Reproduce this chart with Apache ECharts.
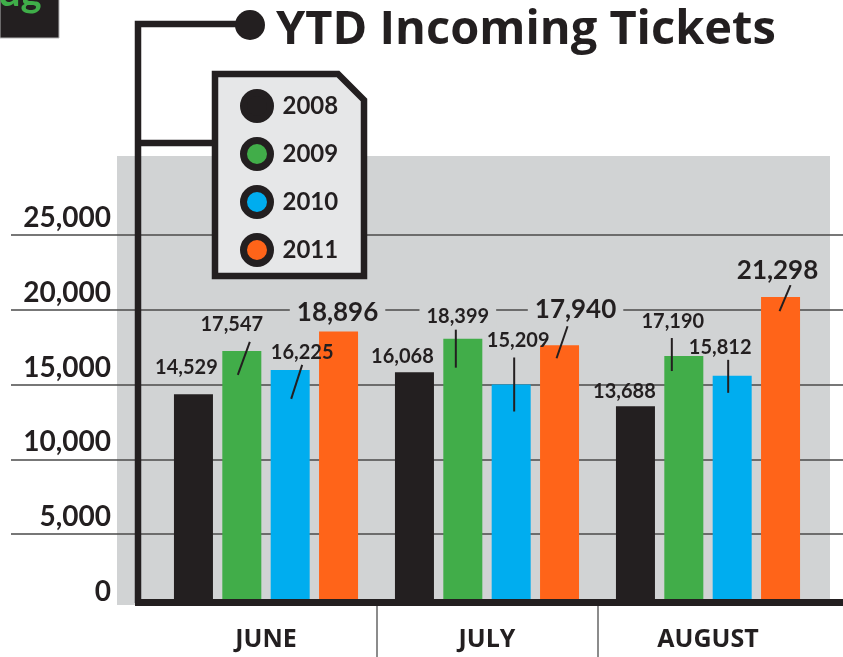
<!DOCTYPE html>
<html>
<head>
<meta charset="utf-8">
<title>YTD Incoming Tickets</title>
<script src="https://cdn.jsdelivr.net/npm/echarts@6/dist/echarts.min.js"></script>
<style>
html, body { margin: 0; padding: 0; background: #fff; }
#report { width: 843px; height: 657px; }
</style>
</head>
<body>
<div id="report"></div>
<script>
var months = ['JUNE', 'JULY', 'AUGUST'];
var years = ['2008', '2009', '2010', '2011'];
var tickets2008 = [14529, 16068, 13688];
var tickets2009 = [17547, 18399, 17190];
var tickets2010 = [16225, 15209, 15812];
var tickets2011 = [18896, 17940, 21298];
var yTickLabels = ['0', '5,000', '10,000', '15,000', '20,000', '25,000'];
var yStep = 5000;
var yMax = 30000;

var colors = ['#231f20', '#41ad49', '#00adef', '#ff6419'];
var ink = '#231f20';
var panel = '#d1d3d4';
var font = 'Lato, "Open Sans", sans-serif';
var headFont = '"Open Sans", Lato, sans-serif';
var barWidth = 39;
var barGap = 0.24;

// where each value label sits, relative to the top centre of its bar [dx, dy]
var labelOffsets = [
	[[-7, -27], [-12, -16], [-11, -15]],
	[[-10, -26], [-5, -22], [-11, -34]],
	[[12, -17], [7, -44], [-12, -28]],
	[[-1, -19], [16, -36], [-3, -26]]
];
// leader lines [x1, y1, x2, y2] relative to the bar top, null = no line
var leaderLines = [
	[null, null, null],
	[[8, -9, -4, 24], [-7, -9, -7, 29], [-12, -18, -12, 15]],
	[[12, -5, 1, 29], [3, -27, 3, 27], [-4, -16, -4, 17]],
	[null, [8, -19, -3, 13], [10, -12, -1, 14]]
];
// labels sitting on the 20,000 gridline get a grey box that breaks the line
var labelBoxed = [
	[false, false, false],
	[false, true, false],
	[false, false, false],
	[true, true, true]
];

var seriesValues = [tickets2008, tickets2009, tickets2010, tickets2011];

function fmt(v) {
	return v.toLocaleString('en-US');
}

// one point per bar, for the labels: [month, value, year index]
var labelData = [];
for (var s = 0; s < seriesValues.length; s++) {
	for (var m = 0; m < months.length; m++) {
		labelData.push([m, seriesValues[s][m], s]);
	}
}

function renderLabel(params, api) {
	var m = api.value(0), v = api.value(1), s = api.value(2);
	var top = api.coord([m, v]);
	var step = barWidth * (1 + barGap);
	var x = top[0] + (s - 1.5) * step;
	var y = top[1];
	var off = labelOffsets[s][m];
	var lead = leaderLines[s][m];
	var children = [];
	if (lead) {
		children.push({
			type: 'line',
			shape: { x1: x + lead[0], y1: y + lead[1], x2: x + lead[2], y2: y + lead[3] },
			style: { stroke: ink, lineWidth: 2 }
		});
	}
	children.push({
		type: 'text',
		style: {
			text: fmt(v),
			x: x + off[0],
			y: y + off[1],
			align: 'center',
			verticalAlign: 'middle',
			font: 'bold ' + (s == 3 ? 26 : 20) + 'px ' + font,
			fill: ink,
			backgroundColor: labelBoxed[s][m] ? panel : null,
			padding: [1, 7]
		}
	});
	return { type: 'group', children: children };
}

var series = [];
for (var i = 0; i < years.length; i++) {
	series.push({
		name: years[i],
		type: 'bar',
		xAxisIndex: 1,
		yAxisIndex: 1,
		barWidth: barWidth,
		barGap: (barGap * 100) + '%',
		itemStyle: { color: colors[i] },
		data: seriesValues[i]
	});
}
series.push({
	name: 'labels',
	type: 'custom',
	xAxisIndex: 1,
	yAxisIndex: 1,
	z: 6,
	encode: { x: 0, y: 1 },
	renderItem: renderLabel,
	data: labelData
});

var myChart = echarts.init(document.getElementById('report'));
var option = {
	animation: false,
	backgroundColor: '#fff',
	textStyle: { fontFamily: font },
	title: {
		text: 'YTD Incoming Tickets',
		left: 276,
		top: 7,
		padding: 0,
		textStyle: { fontFamily: headFont, fontSize: 47, fontWeight: 'bold', color: ink }
	},
	legend: {
		data: years,
		orient: 'vertical',
		left: 240,
		top: 89,
		padding: 0,
		z: 10,
		selectedMode: false,
		icon: 'circle',
		itemWidth: 27,
		itemHeight: 27,
		itemGap: 14,
		itemStyle: { borderColor: ink, borderWidth: 7 },
		textStyle: { fontFamily: font, fontSize: 24, fontWeight: 'bold', color: ink, padding: [0, 0, 0, 7] }
	},
	grid: [
		// gridlines and value labels, running the whole width
		{ left: 11, right: 0, top: 160, bottom: 48 },
		// the bars
		{ left: 155.5, right: 24.5, top: 172, bottom: 54 }
	],
	xAxis: [
		{ gridIndex: 0, type: 'value', show: false },
		{
			gridIndex: 1,
			type: 'category',
			data: months,
			axisLine: { show: false },
			axisTick: { show: false },
			axisLabel: { margin: 24, fontFamily: headFont, fontSize: 25, fontWeight: 'bold', color: ink }
		}
	],
	yAxis: [
		{
			gridIndex: 0,
			type: 'value',
			min: 0,
			max: yMax,
			interval: yStep,
			axisLine: { show: false },
			axisTick: { show: false },
			splitLine: { show: true, showMinLine: false, showMaxLine: false, lineStyle: { color: '#4a4a4a', width: 1.5 } },
			axisLabel: {
				inside: true,
				margin: 100,
				align: 'right',
				verticalAlign: 'bottom',
				lineHeight: 34,
				showMaxLabel: false,
				fontFamily: font,
				fontSize: 28,
				fontWeight: 'bold',
				color: ink,
				formatter: function (value) {
					return yTickLabels[value / yStep];
				}
			}
		},
		{ gridIndex: 1, type: 'value', min: 0, max: yMax, show: false }
	],
	graphic: { elements: [
		{ type: 'rect', id: 'panel', z: -10, shape: { x: 117, y: 156, width: 713, height: 449 }, style: { fill: panel } },
		{ type: 'rect', id: 'tab', shape: { x: 0, y: -1, width: 59, height: 39 }, style: { fill: ink, stroke: '#b5b5b5', lineWidth: 1 } },
		{ type: 'text', id: 'tabText', style: { text: 'ug', x: -2, y: -27, font: 'bold 40px ' + font, fill: '#3fae49' } },
		{ type: 'polyline', id: 'frame', z: 50, shape: { points: [[250, 24], [138, 24], [138, 603]] }, style: { stroke: ink, lineWidth: 6.5, lineJoin: 'miter', fill: null } },
		{ type: 'circle', id: 'dot', z: 50, shape: { cx: 250, cy: 25, r: 15 }, style: { fill: ink } },
		{ type: 'line', id: 'connector', z: 50, shape: { x1: 138, y1: 143, x2: 214, y2: 143 }, style: { stroke: ink, lineWidth: 6.5 } },
		{ type: 'line', id: 'baseline', z: 50, shape: { x1: 135, y1: 602.5, x2: 843, y2: 602.5 }, style: { stroke: ink, lineWidth: 7 } },
		{ type: 'polygon', id: 'legendBox', z: 3, shape: { points: [[215, 74], [338, 74], [364, 100], [364, 276], [215, 276]] }, style: { fill: '#e6e7e8', stroke: ink, lineWidth: 6.5, lineJoin: 'miter' } }
	] },
	series: series
};
myChart.setOption(option);

// thin separators under the axis, between the months
var seps = [];
for (var k = 1; k < months.length; k++) {
	var a = myChart.convertToPixel({ xAxisIndex: 1 }, k - 1);
	var b = myChart.convertToPixel({ xAxisIndex: 1 }, k);
	var sx = Math.round((a + b) / 2);
	seps.push({ type: 'line', id: 'sep' + k, z: 40, shape: { x1: sx, y1: 606, x2: sx, y2: 657 }, style: { stroke: '#8c8c8c', lineWidth: 2 } });
}
myChart.setOption({ graphic: { elements: seps } });
</script>
</body>
</html>
